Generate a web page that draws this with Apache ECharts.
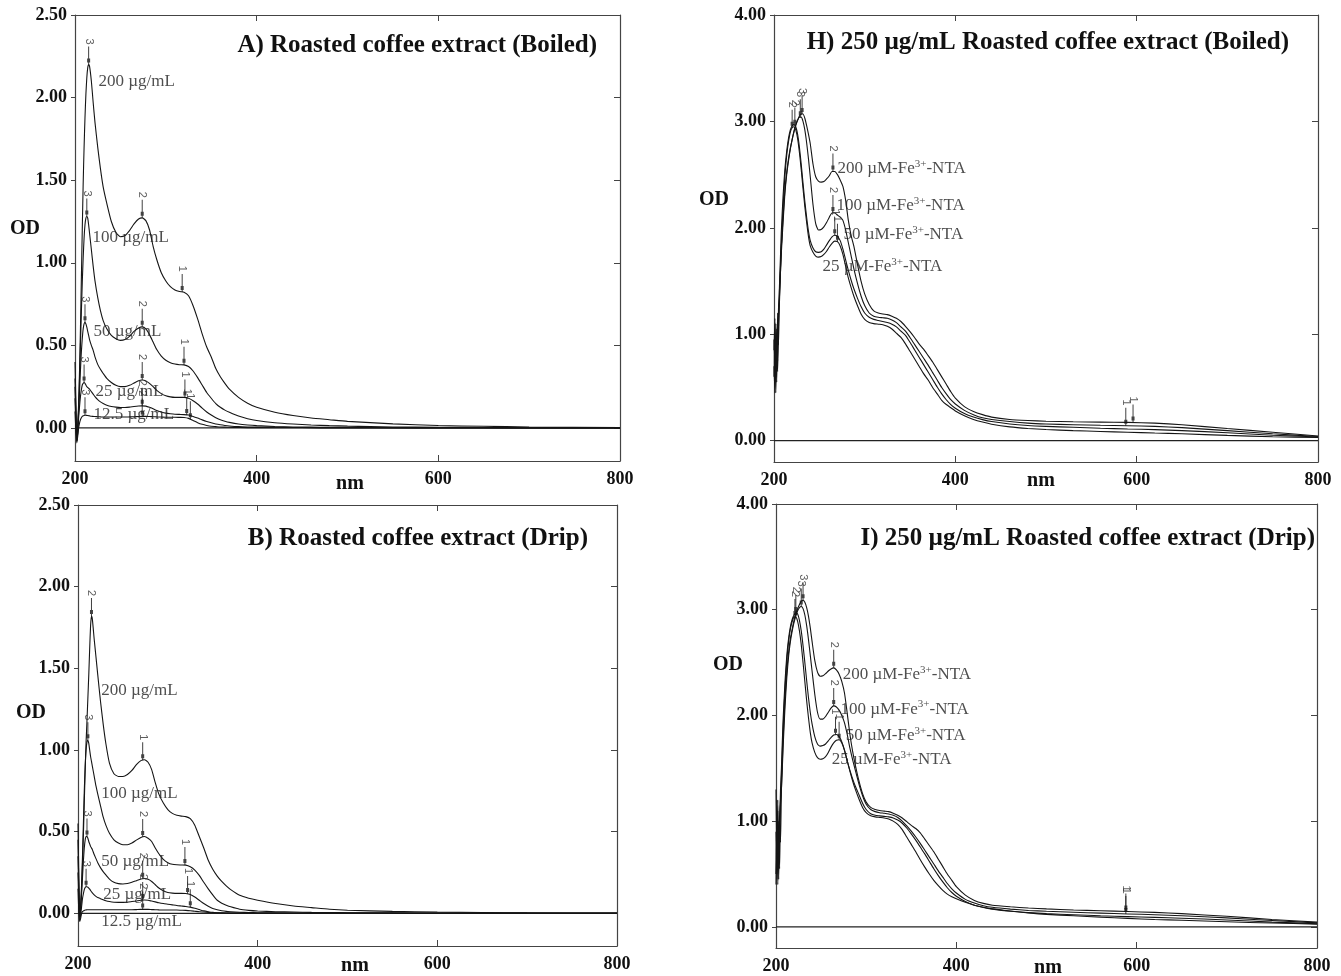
<!DOCTYPE html>
<html><head><meta charset="utf-8">
<script src="https://cdn.jsdelivr.net/npm/echarts@6/dist/echarts.min.js"></script>
<style>html,body{margin:0;padding:0;background:#fff}#c{width:1341px;height:976px}</style>
</head><body><div id="c"></div>
<script>
// ---------- DATA ----------
const xTicks = [200, 400, 600, 800];
const xInnerTicks = [400, 600];
const yTicksAB = [0, 0.5, 1, 1.5, 2, 2.5];
const yTicksHI = [0, 1, 2, 3, 4];

// wavelength grid (nm) for panels A and B
const wlAB = [200,201,202,203,204,205,206,207,208,209,
210,211,212,213,214,215,216,218,220,222,
225,228,231,235,240,245,250,255,260,265,
270,274,278,282,286,290,295,300,305,310,
315,320,325,330,335,340,345,350,355,360,
365,370,380,390,400,420,440,460,480,500,
550,600,650,700,800];

// A) Roasted coffee extract (Boiled)
const A200 = [0.40,0.15,-0.05,0.02,0.15,0.35,0.60,0.90,1.20,1.48,
1.70,1.88,2.02,2.12,2.18,2.20,2.19,2.10,1.97,1.85,
1.70,1.57,1.46,1.36,1.25,1.185,1.158,1.165,1.195,1.235,
1.265,1.272,1.255,1.20,1.10,1.02,0.94,0.89,0.855,0.835,
0.826,0.822,0.80,0.74,0.66,0.57,0.49,0.43,0.36,0.31,
0.27,0.235,0.185,0.15,0.125,0.095,0.075,0.06,0.05,0.04,
0.025,0.015,0.01,0.006,0.003];
const A100 = [0.30,0.10,-0.06,0.00,0.12,0.30,0.50,0.70,0.88,1.03,
1.15,1.23,1.27,1.28,1.27,1.23,1.18,1.08,0.98,0.89,
0.79,0.71,0.65,0.60,0.56,0.54,0.53,0.535,0.555,0.585,
0.605,0.612,0.60,0.565,0.52,0.475,0.435,0.41,0.395,0.387,
0.383,0.382,0.372,0.345,0.305,0.26,0.215,0.18,0.148,0.125,
0.108,0.095,0.072,0.056,0.045,0.032,0.024,0.018,0.014,0.011,
0.006,0.004,0.003,0.002,0.001];
const A50 = [0.25,0.05,-0.08,-0.02,0.10,0.22,0.35,0.46,0.54,0.60,
0.63,0.64,0.63,0.61,0.585,0.56,0.535,0.50,0.47,0.43,
0.385,0.355,0.33,0.30,0.275,0.258,0.25,0.25,0.258,0.272,
0.286,0.29,0.285,0.27,0.25,0.228,0.208,0.195,0.188,0.185,
0.185,0.185,0.18,0.165,0.145,0.12,0.097,0.078,0.062,0.05,
0.041,0.034,0.024,0.018,0.014,0.009,0.006,0.005,0.004,0.003,
0.002,0.001,0.001,0,0];
const A25 = [0.18,0.02,-0.08,-0.03,0.06,0.13,0.19,0.23,0.26,0.27,
0.275,0.27,0.26,0.25,0.245,0.24,0.235,0.22,0.205,0.19,
0.172,0.158,0.148,0.138,0.13,0.126,0.124,0.124,0.126,0.13,
0.133,0.134,0.132,0.125,0.116,0.106,0.097,0.09,0.086,0.083,
0.082,0.081,0.078,0.07,0.06,0.049,0.039,0.031,0.024,0.019,
0.015,0.012,0.008,0.006,0.005,0.004,0.003,0.002,0.002,0.001,
0.001,0,0,0,0];
const A12 = [0.10,-0.02,-0.09,-0.05,0.00,0.03,0.05,0.062,0.07,0.074,
0.076,0.077,0.077,0.076,0.075,0.074,0.073,0.071,0.07,0.069,
0.068,0.067,0.066,0.066,0.066,0.066,0.066,0.066,0.067,0.068,
0.069,0.07,0.07,0.069,0.068,0.067,0.066,0.065,0.065,0.065,
0.064,0.063,0.058,0.045,0.032,0.022,0.015,0.01,0.008,0.006,
0.005,0.004,0.003,0.002,0.002,0.001,0.001,0.001,0,0,
0,0,0,0,0];

// B) Roasted coffee extract (Drip)
const B200 = [0.55,0.20,0.00,0.05,0.15,0.30,0.48,0.68,0.88,1.05,
1.18,1.32,1.46,1.62,1.76,1.82,1.80,1.68,1.57,1.46,
1.30,1.16,1.04,0.92,0.855,0.838,0.838,0.85,0.875,0.91,
0.935,0.94,0.925,0.88,0.80,0.73,0.675,0.635,0.612,0.60,
0.595,0.592,0.58,0.54,0.47,0.40,0.325,0.27,0.228,0.195,
0.168,0.145,0.11,0.092,0.08,0.06,0.045,0.035,0.025,0.019,
0.012,0.008,0.005,0.003,0.002];
const B100 = [0.45,0.15,-0.02,0.05,0.18,0.35,0.55,0.75,0.90,1.00,
1.05,1.06,1.04,1.00,0.96,0.93,0.90,0.84,0.78,0.73,
0.66,0.59,0.54,0.49,0.45,0.43,0.42,0.42,0.43,0.448,
0.465,0.47,0.46,0.44,0.40,0.365,0.33,0.31,0.30,0.297,
0.296,0.295,0.285,0.265,0.232,0.19,0.15,0.113,0.08,0.062,
0.05,0.04,0.025,0.018,0.014,0.01,0.008,0.006,0.005,0.004,
0.003,0.002,0.001,0.001,0];
const B50 = [0.35,0.10,-0.02,0.03,0.12,0.22,0.32,0.40,0.45,0.47,
0.47,0.46,0.44,0.425,0.41,0.40,0.39,0.36,0.335,0.31,
0.28,0.255,0.235,0.21,0.19,0.182,0.18,0.183,0.19,0.20,
0.21,0.213,0.208,0.195,0.175,0.155,0.138,0.128,0.124,0.122,
0.122,0.121,0.115,0.10,0.08,0.06,0.043,0.03,0.022,0.016,
0.012,0.01,0.007,0.005,0.004,0.003,0.002,0.002,0.001,0.001,
0,0,0,0,0];
const B25 = [0.25,0.05,-0.04,-0.01,0.04,0.09,0.12,0.145,0.158,0.163,
0.163,0.16,0.155,0.148,0.14,0.132,0.125,0.113,0.104,0.097,
0.09,0.083,0.077,0.072,0.068,0.067,0.067,0.068,0.072,0.076,
0.08,0.082,0.08,0.075,0.07,0.065,0.06,0.056,0.052,0.048,
0.045,0.042,0.038,0.031,0.023,0.015,0.01,0.006,0.004,0.003,
0.002,0.002,0.001,0.001,0,0,0,0,0,0,
0,0,0,0,0];
const B12 = [0.15,0.00,-0.05,-0.03,0.00,0.01,0.015,0.018,0.02,0.021,
0.022,0.022,0.022,0.022,0.022,0.022,0.022,0.022,0.022,0.022,
0.022,0.022,0.022,0.022,0.022,0.022,0.022,0.022,0.022,0.023,
0.024,0.024,0.024,0.023,0.022,0.021,0.02,0.02,0.02,0.02,
0.019,0.018,0.016,0.013,0.01,0.008,0.006,0.004,0.003,0.002,
0.002,0.001,0.001,0,0,0,0,0,0,0,
0,0,0,0,0];

// wavelength grid (nm) for panels H and I
const wlHI = [200,201,202,203,204,205,206,207,208,210,
212,214,216,218,220,222,224,226,228,230,
232,234,236,238,240,243,246,249,252,255,
258,261,264,267,270,273,276,279,282,285,
288,292,296,300,305,310,315,320,325,330,
335,340,345,350,355,360,365,370,375,380,
385,390,395,400,410,420,430,440,460,480,
500,530,560,590,620,650,700,750,800];

// H) 250 µg/mL Roasted coffee extract (Boiled) + Fe3+-NTA
const H200 = [0.95,0.55,1.10,0.70,1.20,0.90,1.40,1.60,1.80,2.10,
2.35,2.52,2.65,2.75,2.83,2.90,2.96,3.01,3.05,3.07,
3.07,3.03,2.96,2.88,2.79,2.60,2.48,2.44,2.43,2.435,
2.46,2.49,2.53,2.53,2.50,2.45,2.39,2.26,2.07,1.93,
1.83,1.66,1.50,1.38,1.28,1.22,1.20,1.19,1.185,1.17,
1.15,1.12,1.075,1.025,0.97,0.91,0.86,0.80,0.74,0.67,
0.60,0.53,0.46,0.40,0.32,0.275,0.245,0.222,0.20,0.19,
0.183,0.178,0.175,0.172,0.165,0.15,0.115,0.08,0.045];
const H100 = [0.85,1.15,0.60,1.05,0.75,1.25,1.35,1.55,1.75,2.05,
2.32,2.50,2.63,2.74,2.83,2.91,2.97,3.01,3.04,3.04,
3.00,2.92,2.80,2.65,2.48,2.22,2.04,1.98,1.985,2.01,
2.05,2.10,2.14,2.14,2.12,2.10,2.07,1.98,1.86,1.74,
1.62,1.48,1.36,1.27,1.20,1.17,1.16,1.155,1.15,1.135,
1.11,1.07,1.03,0.97,0.905,0.84,0.775,0.71,0.64,0.57,
0.50,0.44,0.385,0.345,0.285,0.245,0.215,0.20,0.18,0.165,
0.157,0.15,0.145,0.141,0.135,0.123,0.095,0.065,0.04];
const H50 = [0.70,0.45,0.95,0.55,1.10,1.20,1.45,1.70,1.95,2.30,
2.55,2.72,2.84,2.92,2.96,2.97,2.95,2.88,2.76,2.60,
2.42,2.25,2.10,1.97,1.88,1.81,1.775,1.77,1.775,1.80,
1.84,1.88,1.915,1.93,1.92,1.88,1.80,1.70,1.60,1.51,
1.43,1.34,1.26,1.20,1.16,1.14,1.13,1.12,1.11,1.095,
1.07,1.03,0.99,0.925,0.855,0.785,0.715,0.645,0.575,0.505,
0.44,0.385,0.34,0.305,0.255,0.222,0.198,0.18,0.157,0.143,
0.135,0.126,0.117,0.11,0.104,0.095,0.075,0.052,0.035];
const H25 = [0.60,0.95,0.45,0.85,0.65,1.10,1.30,1.55,1.80,2.20,
2.48,2.68,2.81,2.90,2.94,2.95,2.92,2.84,2.71,2.55,
2.37,2.20,2.05,1.92,1.83,1.77,1.735,1.725,1.73,1.75,
1.78,1.82,1.855,1.875,1.87,1.83,1.75,1.64,1.53,1.44,
1.36,1.27,1.19,1.14,1.11,1.10,1.095,1.09,1.075,1.05,
1.01,0.97,0.91,0.84,0.77,0.70,0.63,0.57,0.50,0.44,
0.38,0.34,0.31,0.28,0.235,0.20,0.175,0.155,0.13,0.115,
0.105,0.095,0.087,0.08,0.072,0.065,0.05,0.037,0.03];

// I) 250 µg/mL Roasted coffee extract (Drip) + Fe3+-NTA
const I200 = [1.30,0.50,1.10,0.45,1.00,0.80,1.30,1.55,1.80,2.15,
2.42,2.60,2.73,2.82,2.90,2.96,3.01,3.05,3.08,3.09,
3.07,3.02,2.94,2.83,2.70,2.52,2.41,2.37,2.375,2.395,
2.42,2.44,2.45,2.43,2.39,2.32,2.21,2.02,1.82,1.66,
1.53,1.38,1.26,1.18,1.13,1.11,1.10,1.095,1.09,1.075,
1.055,1.03,0.995,0.96,0.93,0.89,0.83,0.77,0.71,0.64,
0.57,0.50,0.44,0.38,0.30,0.25,0.222,0.205,0.19,0.178,
0.17,0.16,0.152,0.145,0.137,0.125,0.10,0.07,0.045];
const I100 = [0.40,1.20,0.70,1.00,0.55,1.15,1.30,1.50,1.72,2.08,
2.36,2.56,2.70,2.80,2.88,2.94,2.99,3.02,3.03,3.01,
2.95,2.85,2.72,2.57,2.42,2.20,2.03,1.965,1.965,1.99,
2.03,2.07,2.09,2.08,2.05,2.00,1.93,1.82,1.69,1.58,
1.48,1.35,1.24,1.16,1.11,1.09,1.08,1.075,1.068,1.055,
1.035,1.00,0.955,0.905,0.85,0.79,0.725,0.66,0.595,0.53,
0.47,0.41,0.36,0.32,0.26,0.225,0.20,0.185,0.168,0.155,
0.147,0.138,0.13,0.122,0.115,0.105,0.085,0.06,0.038];
const I50 = [0.90,0.45,1.20,0.60,0.95,1.30,1.50,1.75,1.98,2.32,
2.57,2.73,2.84,2.91,2.95,2.97,2.96,2.90,2.80,2.66,
2.50,2.33,2.17,2.03,1.92,1.80,1.73,1.71,1.715,1.73,
1.76,1.79,1.815,1.82,1.80,1.75,1.67,1.57,1.48,1.40,
1.33,1.25,1.17,1.11,1.07,1.055,1.05,1.045,1.04,1.03,
1.01,0.98,0.935,0.88,0.82,0.755,0.69,0.62,0.55,0.485,
0.425,0.37,0.325,0.29,0.24,0.205,0.183,0.168,0.148,0.135,
0.125,0.115,0.105,0.097,0.09,0.082,0.065,0.045,0.03];
const I25 = [0.50,0.95,0.40,0.75,1.05,1.20,1.40,1.65,1.90,2.25,
2.52,2.70,2.82,2.89,2.93,2.93,2.89,2.80,2.67,2.50,
2.32,2.14,1.98,1.84,1.74,1.65,1.60,1.585,1.59,1.61,
1.65,1.70,1.74,1.765,1.77,1.74,1.67,1.57,1.47,1.38,
1.30,1.21,1.13,1.08,1.05,1.04,1.035,1.03,1.02,1.00,
0.97,0.92,0.85,0.78,0.71,0.635,0.565,0.50,0.44,0.39,
0.345,0.31,0.285,0.265,0.232,0.205,0.185,0.17,0.15,0.132,
0.118,0.105,0.092,0.08,0.07,0.062,0.048,0.036,0.026];

// peak annotations: [series, wavelength nm, peak number]
const A_peaks = [['200',215,'3'],['200',274,'2'],['200',318,'1'],['100',213,'3'],['100',274,'2'],['100',320,'1'],
  ['50',211,'3'],['50',274,'2'],['50',321,'1'],['25',210,'3'],['25',274,'2'],['25',323,'1'],['12.5',211,'3'],['12.5',274,'2'],['12.5',327,'1']];
const B_peaks = [['200',215,'2'],['200',272,'1'],['100',211,'3'],['100',272,'2'],['100',319,'1'],['50',210,'3'],['50',272,'2'],['50',322,'1'],
  ['25',209,'3'],['25',272,'2'],['25',325,'1'],['12.5',272,'2']];
const H_peaks = [['200',231,'3'],['200',265,'2'],['200',596,'1'],['100',229,'3'],['100',265,'2'],['100',588,'1'],['50',223,'2'],['50',267,'1'],['25',220,'2'],['25',270,'1']];
const I_peaks = [['200',230,'3'],['200',264,'2'],['200',588,'1'],['100',228,'3'],['100',264,'2'],['100',588,'1'],['50',222,'2'],['50',266,'1'],['25',221,'2'],['25',270,'1']];

// curve name annotations: [text, nm, OD]
const A_labels = [['200 µg/mL',225.3,2.10],['100 µg/mL',218.7,1.155],['50 µg/mL',219.8,0.585],['25 µg/mL',222,0.22],['12.5 µg/mL',219.8,0.082]];
const B_labels = [['200 µg/mL',225.3,1.363],['100 µg/mL',225.3,0.734],['50 µg/mL',225.3,0.317],['25 µg/mL',227.6,0.115],['12.5 µg/mL',225.3,-0.05]];
const H_labels = [['200 µM-Fe{s|3+}-NTA',269.4,2.56],['100 µM-Fe{s|3+}-NTA',268.3,2.21],['50 µM-Fe{s|3+}-NTA',276,1.94],['25 µM-Fe{s|3+}-NTA',252.9,1.64]];
const I_labels = [['200 µM-Fe{s|3+}-NTA',273.5,2.39],['100 µM-Fe{s|3+}-NTA',271,2.06],['50 µM-Fe{s|3+}-NTA',276.7,1.81],['25 µM-Fe{s|3+}-NTA',261.3,1.58]];

const titles = {
  A: 'A) Roasted coffee extract (Boiled)',
  B: 'B) Roasted coffee extract (Drip)',
  H: 'H) 250 µg/mL Roasted coffee extract (Boiled)',
  I: 'I) 250 µg/mL Roasted coffee extract (Drip)'
};

// ---------- CHART ----------
const FONT = '"Liberation Serif", "Times New Roman", serif';
const INK = '#151515';
const AX = '#444';

function interp(xs, ys, x) {
  for (let i = 0; i < xs.length - 1; i++) {
    if (x >= xs[i] && x <= xs[i + 1]) {
      const t = (x - xs[i]) / (xs[i + 1] - xs[i]);
      return ys[i] + t * (ys[i + 1] - ys[i]);
    }
  }
  return ys[ys.length - 1];
}

const panels = [
  { key:'A', grid:{left:75, top:15, width:545, height:446}, ymax:2.5, yTicks:yTicksAB, wl:wlAB,
    curves:{'200':A200,'100':A100,'50':A50,'25':A25,'12.5':A12}, peaks:A_peaks, labels:A_labels,
    title:[597,46], od:[25,229], nm:[350,484] },
  { key:'H', grid:{left:774, top:15, width:544, height:447}, ymax:4, yTicks:yTicksHI, wl:wlHI,
    curves:{'200':H200,'100':H100,'50':H50,'25':H25}, peaks:H_peaks, labels:H_labels,
    title:[1289,43], od:[714,200], nm:[1041,481] },
  { key:'B', grid:{left:78, top:505, width:539, height:441}, ymax:2.5, yTicks:yTicksAB, wl:wlAB,
    curves:{'200':B200,'100':B100,'50':B50,'25':B25,'12.5':B12}, peaks:B_peaks, labels:B_labels,
    title:[588,539], od:[31,713], nm:[355,966] },
  { key:'I', grid:{left:776, top:504, width:541, height:444}, ymax:4, yTicks:yTicksHI, wl:wlHI,
    curves:{'200':I200,'100':I100,'50':I50,'25':I25}, peaks:I_peaks, labels:I_labels,
    title:[1315,539], od:[728,665], nm:[1048,968] }
];

const option = { animation:false, backgroundColor:'#fff', grid:[], xAxis:[], yAxis:[], series:[], graphic:[] };
const axLine = { show:true, onZero:false, lineStyle:{ color:AX, width:1.2 } };
const tickFont = { fontFamily:FONT, fontWeight:'bold', fontSize:18, color:'#111' };

panels.forEach((p, k) => {
  option.grid.push(Object.assign({ containLabel:false }, p.grid));
  const xb = option.xAxis.length;
  option.xAxis.push({ gridIndex:k, type:'value', min:200, max:800, position:'bottom',
    axisLine:axLine, splitLine:{show:false},
    axisTick:{ show:true, inside:true, length:6, customValues:xInnerTicks, lineStyle:{color:AX} },
    axisLabel:Object.assign({ customValues:xTicks, margin:9 }, tickFont) });
  option.xAxis.push({ gridIndex:k, type:'value', min:200, max:800, position:'top',
    axisLine:axLine, splitLine:{show:false},
    axisTick:{ show:true, inside:true, length:6, customValues:xInnerTicks, lineStyle:{color:AX} },
    axisLabel:{show:false} });
  const yl = option.yAxis.length;
  option.yAxis.push({ gridIndex:k, type:'value', min:-0.2, max:p.ymax, position:'left',
    axisLine:axLine, splitLine:{show:false},
    axisTick:{ show:true, inside:false, length:4, customValues:p.yTicks, lineStyle:{color:AX} },
    axisLabel:Object.assign({ customValues:p.yTicks, margin:8, formatter:v => Number(v).toFixed(2) }, tickFont) });
  option.yAxis.push({ gridIndex:k, type:'value', min:-0.2, max:p.ymax, position:'right',
    axisLine:axLine, splitLine:{show:false},
    axisTick:{ show:true, inside:true, length:6, customValues:p.yTicks, lineStyle:{color:AX} },
    axisLabel:{show:false} });

  // zero baseline
  option.series.push({ type:'line', xAxisIndex:xb, yAxisIndex:yl, data:[[200,0],[800,0]],
    showSymbol:false, silent:true, lineStyle:{ color:'#222', width:1.2 }, z:2 });

  // spectra
  Object.keys(p.curves).forEach(name => {
    const ys = p.curves[name];
    option.series.push({ type:'line', name:p.key + name, xAxisIndex:xb, yAxisIndex:yl,
      data:p.wl.map((x, i) => [x, ys[i]]), showSymbol:false, smooth:0.2, silent:true,
      lineStyle:{ color:INK, width:1.1 }, z:3 });
  });

  // peak markers
  option.series.push({ type:'scatter', xAxisIndex:xb, yAxisIndex:yl, silent:true, z:4,
    data:p.peaks.map(([s, nm, t]) => ({ name:t, value:[nm, interp(p.wl, p.curves[s], nm)] })),
    symbol:'path://M1,0H2V12H3V16H2V18H1V16H0V12H1Z', symbolSize:[3,18], symbolOffset:[0,'-50%'],
    itemStyle:{ color:'#111' },
    label:{ show:true, formatter:'{b}', position:'top', distance:5, rotate:-90, align:'center', verticalAlign:'middle',
      fontFamily:'"Liberation Sans", Arial, sans-serif', fontSize:11, color:'#333' } });

  // curve name labels
  option.series.push({ type:'scatter', xAxisIndex:xb, yAxisIndex:yl, silent:true, z:5,
    data:p.labels.map(([t, nm, od]) => ({ name:t, value:[nm, od] })),
    symbolSize:1, itemStyle:{ color:'rgba(0,0,0,0)' },
    label:{ show:true, formatter:'{b}', position:'right', distance:0, verticalAlign:'middle',
      fontFamily:FONT, fontSize:17, lineHeight:20, color:'#222',
      rich:{ s:{ fontFamily:FONT, fontSize:11, verticalAlign:'top', lineHeight:20, color:'#222' } } } });

  // titles and axis names
  option.graphic.push({ type:'text', x:p.title[0], y:p.title[1], silent:true,
    style:{ text:titles[p.key], align:'right', verticalAlign:'middle', fill:'#111',
      font:'bold 25px ' + FONT } });
  option.graphic.push({ type:'text', x:p.od[0], y:p.od[1], silent:true,
    style:{ text:'OD', align:'center', verticalAlign:'middle', fill:'#111', font:'bold 20px ' + FONT } });
  option.graphic.push({ type:'text', x:p.nm[0], y:p.nm[1], silent:true,
    style:{ text:'nm', align:'center', verticalAlign:'middle', fill:'#111', font:'bold 20px ' + FONT } });
});

const chart = echarts.init(document.getElementById('c'), null, { renderer:'canvas' });
chart.setOption(option);
</script>
</body></html>
